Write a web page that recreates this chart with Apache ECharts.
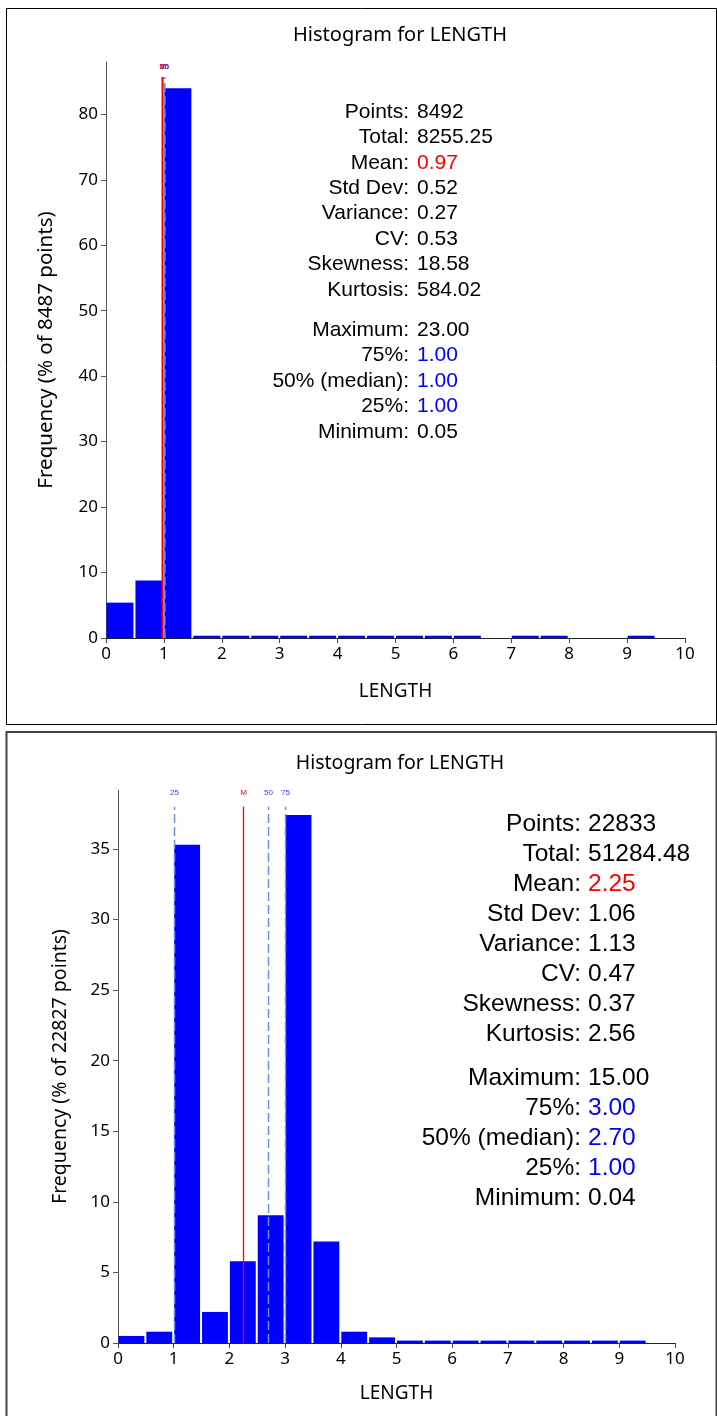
<!DOCTYPE html>
<html>
<head>
<meta charset="utf-8">
<script src="https://cdn.jsdelivr.net/npm/echarts@6/dist/echarts.min.js"></script>
<style>
  html, body { margin: 0; padding: 0; background: #fff; }
  #histograms { width: 717px; height: 1416px; }
</style>
</head>
<body>
<div id="histograms"></div>
<script>
// histogram bins (start of each bin, width 0.5)
const binWidth = 0.5;
const binStarts = [0, 0.5, 1, 1.5, 2, 2.5, 3, 3.5, 4, 4.5, 5, 5.5, 6, 6.5, 7, 7.5, 8, 8.5, 9];

// top histogram: % of 8487 points
const freqTop = [5.4, 8.8, 84.0, 0.35, 0.35, 0.35, 0.35, 0.35, 0.35, 0.35, 0.35, 0.35, 0.35, 0, 0.35, 0.35, 0, 0, 0.35];
// bottom histogram: % of 22827 points
const freqBottom = [0.5, 0.8, 35.3, 2.2, 5.8, 9.05, 37.4, 7.2, 0.8, 0.4, 0.17, 0.17, 0.17, 0.17, 0.17, 0.17, 0.17, 0.17, 0.17];

const yTicksTop = [0, 10, 20, 30, 40, 50, 60, 70, 80];
const yTicksBottom = [0, 5, 10, 15, 20, 25, 30, 35];

// marker lines: quartiles + mean
const markerNames = ['25', '50', '75', 'M'];
const markersTop = [1.00, 1.00, 1.00, 0.97];
const markersBottom = [1.00, 2.70, 3.00, 2.25];

const statLabels = ['Points:', 'Total:', 'Mean:', 'Std Dev:', 'Variance:', 'CV:', 'Skewness:', 'Kurtosis:',
  'Maximum:', '75%:', '50% (median):', '25%:', 'Minimum:'];
const statsTop = ['8492', '8255.25', '0.97', '0.52', '0.27', '0.53', '18.58', '584.02',
  '23.00', '1.00', '1.00', '1.00', '0.05'];
const statsBottom = ['22833', '51284.48', '2.25', '1.06', '1.13', '0.47', '0.37', '2.56',
  '15.00', '3.00', '2.70', '1.00', '0.04'];
const statColors = ['#000', '#000', '#ff0000', '#000', '#000', '#000', '#000', '#000',
  '#000', '#0000ff', '#0000ff', '#0000ff', '#000'];

const tickFont = '"Noto Sans", "Open Sans", sans-serif';
const statFont = '"Liberation Sans", Arial, sans-serif';

function histSeries(idx, freq) {
  return {
    type: 'custom',
    xAxisIndex: idx,
    yAxisIndex: idx,
    data: binStarts.map((s, i) => [s, s + binWidth, freq[i]]),
    renderItem: function (params, api) {
      const p0 = api.coord([api.value(0), api.value(2)]);
      const p1 = api.coord([api.value(1), 0]);
      return {
        type: 'rect',
        shape: { x: p0[0] + 0.5, y: p0[1], width: p1[0] - p0[0] - 2, height: p1[1] - p0[1] },
        style: { fill: '#0000ff' }
      };
    }
  };
}

// vertical marker lines with small labels on top
function markerSeries(idx, xs, lineTop, labelGap, redWidth) {
  return {
    type: 'custom',
    xAxisIndex: idx,
    yAxisIndex: idx,
    silent: true,
    z: 5,
    data: xs.map((x, i) => [x, lineTop, i]),
    renderItem: function (params, api) {
      const i = api.value(2);
      const isMean = markerNames[i] === 'M';
      const pTop = api.coord([api.value(0), api.value(1)]);
      const pBase = api.coord([api.value(0), 0]);
      const x = Math.round(pTop[0]) + 0.5;
      return {
        type: 'group',
        children: [
          {
            type: 'line',
            shape: { x1: x, y1: pBase[1], x2: x, y2: pTop[1] },
            style: isMean
              ? { stroke: '#ff0000', lineWidth: redWidth }
              : { stroke: '#6f8ff0', lineWidth: 1.5, lineDash: [9, 4] }
          },
          {
            type: 'text',
            x: x, y: pTop[1] - labelGap,
            style: {
              text: markerNames[i], textAlign: 'center', textVerticalAlign: 'middle',
              fontSize: 8, fontFamily: statFont, fill: isMean ? '#ff0000' : '#3a3aff'
            }
          }
        ]
      };
    }
  };
}

function statTexts(values, colonX, valueX, topY, step, gap, size) {
  const out = [];
  values.forEach((v, i) => {
    const y = topY + i * step + (i >= 8 ? gap : 0);
    out.push({
      type: 'text', x: colonX, y: y, silent: true,
      style: { text: statLabels[i], textAlign: 'right', textVerticalAlign: 'middle', fontSize: size, fontFamily: statFont, fill: '#000' }
    });
    out.push({
      type: 'text', x: valueX, y: y, silent: true,
      style: { text: v, textAlign: 'left', textVerticalAlign: 'middle', fontSize: size, fontFamily: statFont, fill: statColors[i] }
    });
  });
  return out;
}

function xAxisCfg(grid, gap) {
  return {
    type: 'value', gridIndex: grid, min: 0, max: 10, interval: 1,
    name: 'LENGTH', nameLocation: 'middle', nameGap: gap,
    nameTextStyle: { fontFamily: tickFont, fontSize: 19, color: '#000' },
    axisLine: { lineStyle: { color: '#222', width: 1 } },
    axisTick: { show: true, length: 5, lineStyle: { color: '#444' } },
    axisLabel: { color: '#000', fontSize: 17, fontFamily: tickFont, margin: 8 },
    splitLine: { show: false }
  };
}

function yAxisCfg(grid, max, ticks, name, gap, nameSize) {
  return {
    type: 'value', gridIndex: grid, min: 0, max: max,
    name: name, nameLocation: 'middle', nameGap: gap, nameRotate: 90,
    nameTextStyle: { fontFamily: tickFont, fontSize: nameSize, color: '#000' },
    axisLine: { show: true, lineStyle: { color: '#555', width: 1 } },
    axisTick: { show: true, length: 5, customValues: ticks, lineStyle: { color: '#555' } },
    axisLabel: { color: '#000', fontSize: 17, fontFamily: tickFont, margin: 8, customValues: ticks },
    splitLine: { show: false }
  };
}

const chart = echarts.init(document.getElementById('histograms'));
chart.setOption({
  animation: false,
  backgroundColor: '#fff',
  title: [
    { text: 'Histogram for LENGTH', left: 395, top: 20, textAlign: 'center',
      textStyle: { fontFamily: tickFont, fontSize: 20, fontWeight: 'normal', color: '#000' } },
    { text: 'Histogram for LENGTH', left: 395, top: 748, textAlign: 'center',
      textStyle: { fontFamily: tickFont, fontSize: 19.5, fontWeight: 'normal', color: '#000' } }
  ],
  grid: [
    { left: 106, top: 62, width: 579, height: 576 },
    { left: 118, top: 790, width: 557, height: 553 }
  ],
  xAxis: [xAxisCfg(0, 44), xAxisCfg(1, 41)],
  yAxis: [
    yAxisCfg(0, 88, yTicksTop, 'Frequency (% of 8487 points)', 49, 20.5),
    yAxisCfg(1, 39.18, yTicksBottom, 'Frequency (% of 22827 points)', 48, 19.5)
  ],
  graphic: [
    { type: 'rect', silent: true, shape: { x: 6.5, y: 8.5, width: 710, height: 716 },
      style: { fill: 'none', stroke: '#000', lineWidth: 1 } },
    { type: 'rect', silent: true, shape: { x: 6.5, y: 732, width: 710, height: 700 },
      style: { fill: 'none', stroke: '#444', lineWidth: 2 } }
  ].concat(statTexts(statsTop, 409, 417, 112, 25.4, 15, 21))
   .concat(statTexts(statsBottom, 581, 588, 824, 30, 14, 24.5)),
  series: [
    histSeries(0, freqTop),
    histSeries(1, freqBottom),
    markerSeries(0, markersTop, 85.7, 10, 2),
    markerSeries(1, markersBottom, 38.0, 14, 1.3)
  ]
});
</script>
</body>
</html>
